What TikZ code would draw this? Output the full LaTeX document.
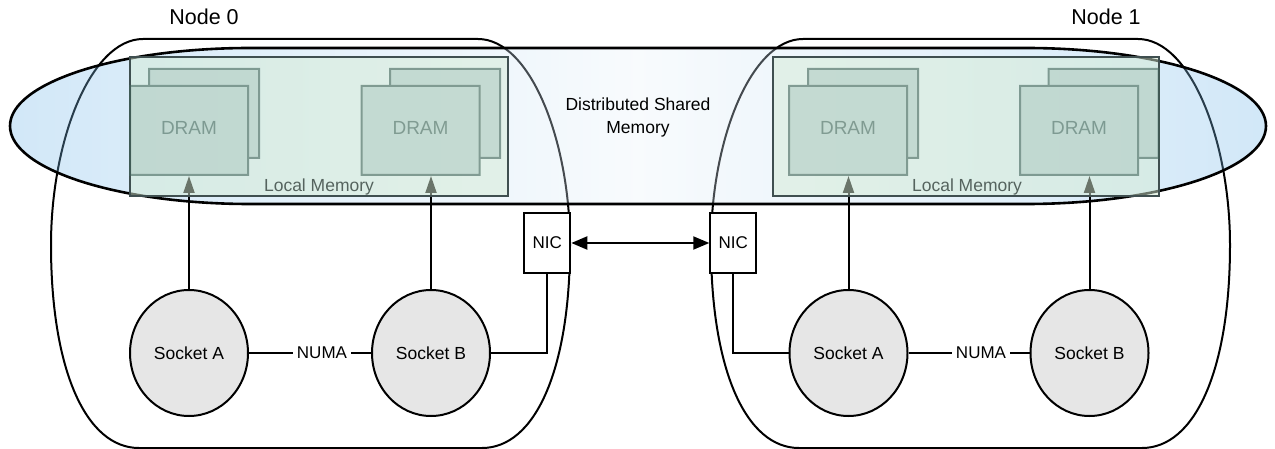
\documentclass[tikz,border=0pt]{standalone}
\usepackage{fontspec}
\setmainfont{Liberation Sans}
\usetikzlibrary{arrows.meta}
\usetikzlibrary{shapes.geometric}
\pgfdeclarelayer{outline}
\pgfdeclarelayer{shared}
\pgfdeclarelayer{links}
\pgfsetlayers{outline,shared,links,main}
\definecolor{socketgray}{HTML}{E6E6E6}
\definecolor{dsmblue}{HTML}{72B7E9}
\definecolor{dsmmid}{HTML}{E9F2F9}
\definecolor{lmgreen}{HTML}{D4EBD4}
\definecolor{lmedge}{HTML}{3F4F50}
\definecolor{lmtext}{HTML}{55635E}
\definecolor{dramfill}{HTML}{B2CCC4}
\definecolor{dramedge}{HTML}{42645A}

\begin{document}
\begin{tikzpicture}
[x=1pt,y=-1pt,%
  every path/.style={line width=2pt},%
  socket/.style={ellipse,draw,fill=socketgray,minimum width=118pt,minimum height=126pt,%
    font=\fontsize{17.5}{20}\selectfont},%
  nic/.style={rectangle,draw,fill=white,minimum width=46pt,minimum height=60pt,inner sep=0pt,%
    font=\fontsize{17}{20}\selectfont},%
  numa/.style={inner sep=3pt,font=\fontsize{17}{20}\selectfont},%
  localmem/.style={rectangle,draw=lmedge,fill=lmgreen,fill opacity=0.5,text opacity=1,minimum height=139pt},%
  dram/.style={rectangle,draw=dramedge,fill=dramfill,minimum width=118pt,minimum height=89pt,%
    text=dramedge,text depth=5pt,font=\fontsize{19}{22}\selectfont},%
  dramback/.style={dram,minimum width=110pt},%
  title/.style={font=\fontsize{21.5}{25}\selectfont},%
  memlabel/.style={text=lmtext,font=\fontsize{17.5}{20}\selectfont},%
  >={Triangle[length=16pt,width=13pt]}]
\useasboundingbox (0,0) rectangle (1275,449);
%% the two machines
\begin{pgfonlayer}{outline}
\foreach \dx in {0,660}
{
  \draw[shift={(\dx,0)}] (143,39) -- (478,39)
    .. controls (530,39) and (570,140) .. (570,245)
    .. controls (570,370) and (535,448) .. (482,448) -- (139,448)
    .. controls (86,448) and (51,370) .. (51,245)
    .. controls (51,140) and (91,39) .. (143,39) -- cycle;
};
\end{pgfonlayer}
\node[title] (lbl0) at (204,17) {Node 0};
\node[title] (lbl1) at (1106,17) {Node 1};
%% shared memory band
\begin{pgfonlayer}{shared}
\draw[line width=2.6pt,left color=dsmblue,right color=dsmblue,middle color=dsmmid,fill opacity=0.32]
  (250,48) -- (1026,48)
  .. controls (1158.5,48) and (1266,82.9) .. (1266,126)
  .. controls (1266,169.1) and (1158.5,204) .. (1026,204) -- (250,204)
  .. controls (117.5,204) and (10,169.1) .. (10,126)
  .. controls (10,82.9) and (117.5,48) .. (250,48) -- cycle;
\end{pgfonlayer}
\node[align=center,font=\fontsize{17.5}{23}\selectfont] (dsm) at (638,117) {Distributed Shared\\Memory};
%% local memory
\node[localmem,minimum width=378pt] (lm0) at (319,126.5) {};
\node[localmem,minimum width=386pt] (lm1) at (966,126.5) {};
\node[memlabel] (lmtext0) at (319,187) {Local Memory};
\node[memlabel] (lmtext1) at (967,187) {Local Memory};
\foreach \fx/\bx/\nm in {189/204/0a, 420.5/445/0b, 848/863/1a, 1079/1103.5/1b}
{
  \begin{scope}[transparency group,opacity=0.6]
    \node[dramback] (back\nm) at (\bx,113.5) {};
    \node[dram] (dram\nm) at (\fx,130.5) {DRAM};
  \end{scope}
};
%% sockets and NICs
\node[socket] (s0a) at (189,353) {Socket A};
\node[socket] (s0b) at (431,353) {Socket B};
\node[socket] (s1a) at (848.5,353) {Socket A};
\node[socket] (s1b) at (1089.5,353) {Socket B};
\node[numa] (numa0) at (322,353) {NUMA};
\node[numa] (numa1) at (981,353) {NUMA};
\node[nic] (nic0) at (547.3,243) {NIC};
\node[nic] (nic1) at (733.3,243) {NIC};
%%
\begin{pgfonlayer}{links}
\foreach \nm in {0a,0b,1a,1b}
{
  \draw[-{Triangle[length=17pt,width=11pt]}] (s\nm.north) -- (s\nm.north |- dram\nm.south);
};
\end{pgfonlayer}
\draw (s0a) -- (numa0) -- (s0b);
\draw (s1a) -- (numa1) -- (s1b);
\draw (nic0.south) |- (s0b.east);
\draw (nic1.south) |- (s1a.west);
\draw[<->] (nic0) -- (nic1);
\end{tikzpicture}
\end{document}
